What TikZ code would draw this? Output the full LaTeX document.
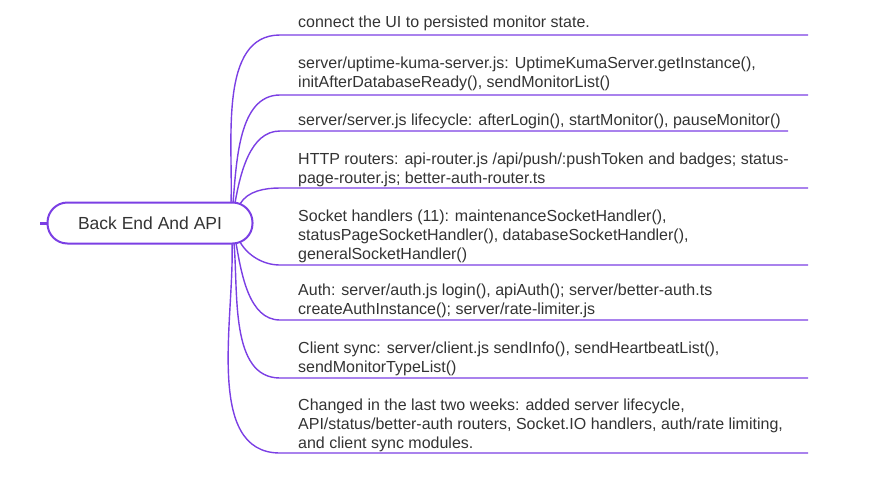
\documentclass[tikz,border=0pt]{standalone}
\usepackage{fontspec}
\setmainfont{Liberation Sans}
\usepackage{tikz}
\usetikzlibrary{positioning}
\definecolor{branch}{HTML}{7B3FE4}
\definecolor{txt}{HTML}{333333}
\tikzset{
  root/.style={draw=branch,line width=2pt,rounded corners=20pt,minimum width=205pt,minimum height=41pt,text=txt,font=\fontsize{17.5}{20}\selectfont},
  item/.style={anchor=north west,inner sep=0pt,align=left,text=txt,font=\fontsize{16}{18.6}\selectfont},
  link/.style={draw=branch,line width=1.4pt}
}
\begin{document}
\begin{tikzpicture}[x=1pt,y=-1pt]
  \useasboundingbox (0,0) rectangle (880,480);
  \node[root] (root) at (150,223) {Back End And API}; % root topic
  \draw[branch,line width=3pt] (40,223) -- (root.west); % stub
  % items
  \node[item] (i1) at (298,16) {connect the UI to persisted monitor state.};
  \node[item] (i2) at (298,57) {server/uptime-kuma-server.js: UptimeKumaServer.getInstance(),\\initAfterDatabaseReady(), sendMonitorList()};
  \node[item] (i3) at (298,114) {server/server.js lifecycle: afterLogin(), startMonitor(), pauseMonitor()};
  \node[item] (i4) at (298,153) {HTTP routers: api-router.js /api/push/:pushToken and badges; status-\\page-router.js; better-auth-router.ts};
  \node[item] (i5) at (298,210) {Socket handlers (11): maintenanceSocketHandler(),\\statusPageSocketHandler(), databaseSocketHandler(),\\generalSocketHandler()};
  \node[item] (i6) at (298,284) {Auth: server/auth.js login(), apiAuth(); server/better-auth.ts\\createAuthInstance(); server/rate-limiter.js};
  \node[item] (i7) at (298,342) {Client sync: server/client.js sendInfo(), sendHeartbeatList(),\\sendMonitorTypeList()};
  \node[item] (i8) at (298,399) {Changed in the last two weeks: added server lifecycle,\\API/status/better-auth routers, Socket.IO handlers, auth/rate limiting,\\and client sync modules.};
  % branches with underlines
  \foreach \k/\sx/\sy/\uy/\ex/\o in {1/231/203/35/808/88, 2/233/203/95/808/85, 3/235/203/131/788/80, 4/240/204/188/808/60,
                                   5/240/242/265/808/-60, 6/236/243/320/808/-80, 7/234/243/378/808/-85, 8/232/243/453/808/-88} {
    \coordinate (u\k) at (280,\uy);
    \coordinate (e\k) at (\ex,\uy);
    \draw[link] (\sx,\sy) to[out=\o,in=180,looseness=0.9] (u\k) -- (e\k);
  }
\end{tikzpicture}
\end{document}
